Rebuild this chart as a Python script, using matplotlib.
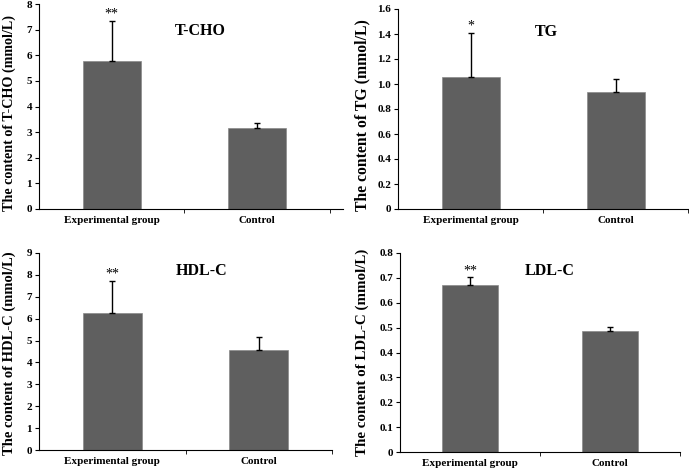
import matplotlib
matplotlib.use("Agg")
import matplotlib.pyplot as plt
from matplotlib.ticker import FuncFormatter

plt.rcParams['font.family'] = ['Liberation Serif', 'DejaVu Serif']
plt.rcParams['font.weight'] = 'bold'

# Data
groups = ["Experimental group", "Control"]
tcho_mean = [5.78, 3.15]
tcho_err = [1.57, 0.22]
tg_mean = [1.06, 0.94]
tg_err = [0.35, 0.10]
hdl_mean = [6.28, 4.58]
hdl_err = [1.44, 0.56]
ldl_mean = [0.67, 0.488]
ldl_err = [0.032, 0.015]
signif = [["**", ""], ["*", ""], ["**", ""], ["**", ""]]

W, H = 689, 470
f = plt.figure(figsize=(W / 100, H / 100), dpi=100)


def make_axes(left, right, top, bottom):
    return f.add_axes([left / W, 1 - bottom / H, (right - left) / W, (bottom - top) / H])


panels = [
    # title, means, errs, ymax, ystep, int labels, axes px (l, r, t, b), xmax, title pos,
    # ylabel centre (x px, y frac), ylabel size
    ("T-CHO", tcho_mean, tcho_err, 8, 1, True, (39, 343, 4, 209), 2.09, (0.53, 0.87), (9.5, 0.47), 10.2),
    ("TG", tg_mean, tg_err, 1.6, 0.2, False, (398, 688, 9, 209), 2.0, (0.51, 0.885), (362.5, 0.47), 11.3),
    ("HDL-C", hdl_mean, hdl_err, 9, 1, True, (39, 332, 253, 450), 2.0, (0.556, 0.91), (9.5, 0.49), 10.5),
    ("LDL-C", ldl_mean, ldl_err, 0.8, 0.1, False, (400, 680, 253, 452), 2.0, (0.536, 0.91), (362, 0.5), 10.8),
]

for i, (name, means, errs, ymax, ystep, is_int, box, xmax, tpos, ylpos, yls) in enumerate(panels):
    ax = make_axes(*box)
    x = [0.5, 1.5]
    ax.bar(x, means, width=0.4, color='#5f5f5f', edgecolor='#8a8a8a', linewidth=0.5, zorder=2)
    ax.errorbar(x, means, yerr=[[0, 0], errs], fmt='none', ecolor='black',
                elinewidth=1, capsize=2, capthick=1, zorder=3)
    for xi, m, e, s in zip(x, means, errs, signif[i]):
        if s:
            ax.text(xi, m + e, s, ha='center', va='bottom', fontsize=10, fontweight='normal')
    ax.set_xlim(0, xmax)
    ax.set_ylim(0, ymax)
    n = int(round(ymax / ystep))
    ax.set_yticks([k * ystep for k in range(n + 1)])
    if is_int:
        ax.yaxis.set_major_formatter(FuncFormatter(lambda v, p: f"{v:.0f}"))
    else:
        ax.yaxis.set_major_formatter(FuncFormatter(lambda v, p: "0" if abs(v) < 1e-9 else f"{v:.1f}"))
    ax.set_xticks(x)
    ax.set_xticklabels(groups)
    ax.set_xticks([1.0, 2.0], minor=True)
    ax.tick_params(axis='x', which='major', length=0, pad=5, labelsize=8)
    ax.tick_params(axis='x', which='minor', length=3, direction='out')
    ax.tick_params(axis='y', length=3, direction='out', pad=2, labelsize=8)
    for sp in ['top', 'right']:
        ax.spines[sp].set_visible(False)
    for sp in ['left', 'bottom']:
        ax.spines[sp].set_linewidth(0.8)
    ax.text(tpos[0], tpos[1], name, transform=ax.transAxes, ha='center', va='center',
            fontsize=11.5, fontweight='bold')
    left, right, top, bottom = box
    ax.set_ylabel(f"The content of {name} (mmol/L)", fontsize=yls, fontweight='bold', va='center')
    ax.yaxis.set_label_coords((ylpos[0] - left) / (right - left), ylpos[1])

plt.savefig("out.png", dpi=100)
plt.close(f)
